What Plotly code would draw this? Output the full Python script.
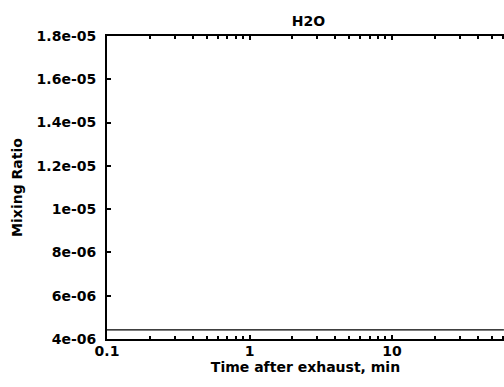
import plotly.graph_objects as go

# Data
time_min = [0.1, 0.3, 1, 3, 10, 30, 61]
h2o_mixing_ratio = [4.42e-06, 4.42e-06, 4.42e-06, 4.42e-06, 4.42e-06, 4.42e-06, 4.42e-06]

y_tick_vals = [4e-06, 6e-06, 8e-06, 1e-05, 1.2e-05, 1.4e-05, 1.6e-05, 1.8e-05]
y_tick_text = ["4e-06", "6e-06", "8e-06", "1e-05", "1.2e-05", "1.4e-05", "1.6e-05", "1.8e-05"]
x_tick_vals = [0.1, 1, 10]
x_tick_text = ["0.1", "1", "10"]
x_minor_vals = [0.2, 0.3, 0.4, 0.5, 0.6, 0.7, 0.8, 0.9,
                2, 3, 4, 5, 6, 7, 8, 9,
                20, 30, 40, 50, 60]

FONT = "DejaVu Sans"

fig = go.Figure()
fig.add_trace(go.Scatter(
    x=time_min, y=h2o_mixing_ratio, mode="lines",
    line=dict(color="black", width=1.3), showlegend=False, hoverinfo="skip",
))

fig.update_layout(
    width=504, height=387,
    margin=dict(l=107, r=0, t=36, b=48),
    paper_bgcolor="white", plot_bgcolor="white",
    font=dict(family=FONT, size=14, color="black", weight="bold"),
    title=dict(text="H2O", x=0.612, xanchor="center", y=0.946, yanchor="middle",
               font=dict(family=FONT, size=14, color="black", weight="bold")),
)

fig.update_xaxes(
    type="log", range=[-1, 1.786],
    tickmode="array", tickvals=x_tick_vals, ticktext=x_tick_text,
    ticks="inside", ticklen=4, tickwidth=2, tickcolor="black",
    showline=True, linewidth=2, linecolor="black", mirror="ticks",
    showgrid=False, zeroline=False,
    tickfont=dict(family=FONT, size=14, color="black", weight="bold"),
    ticklabelstandoff=-2,
    minor=dict(tickmode="array", tickvals=x_minor_vals, ticks="inside",
               ticklen=3, tickwidth=1.5, tickcolor="black", showgrid=False),
    title=dict(text="Time after exhaust, min", standoff=0,
               font=dict(family=FONT, size=14, color="black", weight="bold")),
)

fig.update_yaxes(
    range=[4e-06, 1.8e-05],
    tickmode="array", tickvals=y_tick_vals, ticktext=y_tick_text,
    ticks="inside", ticklen=4, tickwidth=2, tickcolor="black",
    showline=True, linewidth=2, linecolor="black", mirror=False,
    showgrid=False, zeroline=False,
    tickfont=dict(family=FONT, size=14, color="black", weight="bold"),
    ticklabelstandoff=6,
    title=dict(text="Mixing Ratio", standoff=11,
               font=dict(family=FONT, size=14, color="black", weight="bold")),
)

fig.write_html("out.html")
